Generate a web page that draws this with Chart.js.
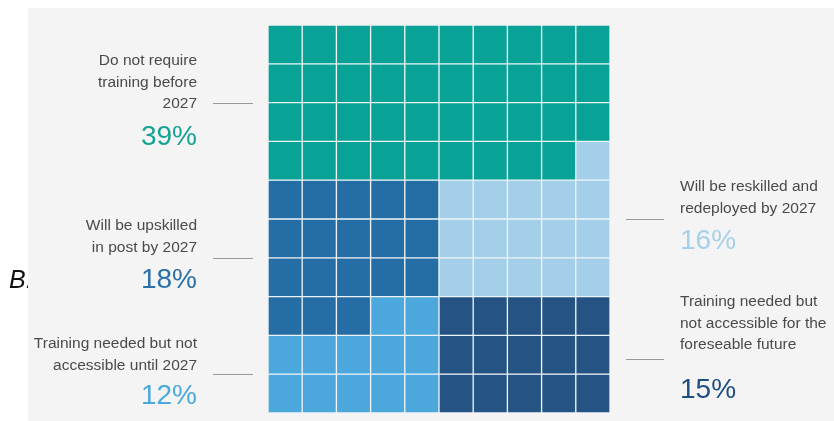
<!DOCTYPE html>
<html>
<head>
<meta charset="utf-8">
<title>Training outlook</title>
<script src="https://cdn.jsdelivr.net/npm/chart.js"></script>
<style>
    html, body { margin: 0; padding: 0; background: #ffffff; }
    #waffle { display: block; }
</style>
</head>
<body>
<canvas id="waffle" width="834" height="421"></canvas>
<script>
// Share of workforce by training outlook, one square = 1%
const categories = [
    'Do not require training before 2027',
    'Will be upskilled in post by 2027',
    'Will be reskilled and redeployed by 2027',
    'Training needed but not accessible until 2027',
    'Training needed but not accessible for the foreseable future'
];
const shares = [39, 18, 16, 12, 15];
const labelLines = [
    ['Do not require', 'training before', '2027'],
    ['Will be upskilled', 'in post by 2027'],
    ['Will be reskilled and', 'redeployed by 2027'],
    ['Training needed but not', 'accessible until 2027'],
    ['Training needed but', 'not accessible for the', 'foreseable future']
];
const columnLabels = ['1', '2', '3', '4', '5', '6', '7', '8', '9', '10'];

// after the first block fills row by row, the rest splits into two halves
const leftGroup = [1, 3];
const rightGroup = [2, 4];

const cellColors = ['#08a396', '#246ea5', '#a3cfe9', '#4ca8dc', '#245384'];
const textColors = ['#17a394', '#2a6fa8', '#a6d1ea', '#4aa8dc', '#1f4f82'];

// callout placement: side, leader line y (in grid rows), baselines in px
const callouts = [
    { cat: 0, side: 'left',  lineAt: 2.0, firstBase: 65,  pctBase: 145 },
    { cat: 1, side: 'left',  lineAt: 6.0, firstBase: 230, pctBase: 288 },
    { cat: 3, side: 'left',  lineAt: 9.0, firstBase: 348, pctBase: 404 },
    { cat: 2, side: 'right', lineAt: 5.0, firstBase: 191, pctBase: 249 },
    { cat: 4, side: 'right', lineAt: 8.6, firstBase: 306, pctBase: 398 }
];

const GRID = 10;

function buildCells() {
    const cells = [];
    for (let r = 0; r < GRID; r++) cells.push(new Array(GRID).fill(null));

    for (let k = 0; k < shares[0]; k++) {
        cells[Math.floor(k / GRID)][k % GRID] = 0;
    }

    function fillHalf(group, c0, c1) {
        const queue = [];
        group.forEach(g => {
            for (let n = 0; n < shares[g]; n++) queue.push(g);
        });
        let q = 0;
        for (let r = 0; r < GRID; r++) {
            for (let c = c0; c <= c1; c++) {
                if (cells[r][c] === null && q < queue.length) cells[r][c] = queue[q++];
            }
        }
    }
    fillHalf(leftGroup, 0, 4);
    fillHalf(rightGroup, 5, 9);
    return cells;
}

const cells = buildCells();

// one stacked dataset per row, each column a unit-height bar
const datasets = cells.map((row, r) => ({
    label: 'row ' + (r + 1),
    data: columnLabels.map(() => 1),
    backgroundColor: row.map(i => cellColors[i]),
    borderColor: '#eef3f6',
    borderWidth: 1,
    borderSkipped: false,
    categoryPercentage: 1,
    barPercentage: 1
}));

const backdrop = {
    id: 'backdrop',
    beforeDraw(chart) {
        const ctx = chart.ctx;
        ctx.save();
        ctx.fillStyle = '#ffffff';
        ctx.fillRect(0, 0, chart.width, chart.height);
        ctx.fillStyle = '#111111';
        ctx.font = 'italic 25px "Liberation Sans", Arial, sans-serif';
        ctx.textBaseline = 'alphabetic';
        ctx.fillText('B.', 9, 288);
        ctx.fillStyle = '#f4f4f4';
        ctx.fillRect(28, 8, chart.width - 28, 413);
        ctx.restore();
    }
};

const calloutLabels = {
    id: 'calloutLabels',
    afterDraw(chart) {
        const ctx = chart.ctx;
        const yScale = chart.scales.y;
        ctx.save();
        callouts.forEach(co => {
            const lineY = Math.round(yScale.getPixelForValue(co.lineAt)) + 0.5;
            const left = co.side === 'left';
            const textX = left ? 197 : 680;

            ctx.strokeStyle = '#9a9a9a';
            ctx.lineWidth = 1;
            ctx.beginPath();
            if (left) {
                ctx.moveTo(213, lineY);
                ctx.lineTo(253, lineY);
            } else {
                ctx.moveTo(626, lineY);
                ctx.lineTo(664, lineY);
            }
            ctx.stroke();

            ctx.textAlign = left ? 'right' : 'left';
            ctx.textBaseline = 'alphabetic';
            ctx.fillStyle = '#4a4a4a';
            ctx.font = '15.5px "Liberation Sans", Arial, sans-serif';
            labelLines[co.cat].forEach((line, i) => {
                ctx.fillText(line, textX, co.firstBase + i * 21.5);
            });

            ctx.fillStyle = textColors[co.cat];
            ctx.font = '28px "Liberation Sans", Arial, sans-serif';
            ctx.fillText(shares[co.cat] + '%', textX, co.pctBase);
        });
        ctx.restore();
    }
};

new Chart(document.getElementById('waffle'), {
    type: 'bar',
    data: {
        labels: columnLabels,
        datasets: datasets
    },
    options: {
        responsive: false,
        animation: false,
        devicePixelRatio: 1,
        layout: {
            padding: { left: 268, right: 224, top: 25, bottom: 8 }
        },
        plugins: {
            legend: { display: false },
            tooltip: { enabled: false },
            title: { display: false }
        },
        scales: {
            x: {
                stacked: true,
                display: false,
                grid: { display: false }
            },
            y: {
                stacked: true,
                display: false,
                reverse: true,
                min: 0,
                max: GRID,
                grid: { display: false }
            }
        }
    },
    plugins: [backdrop, calloutLabels]
});
</script>
</body>
</html>
